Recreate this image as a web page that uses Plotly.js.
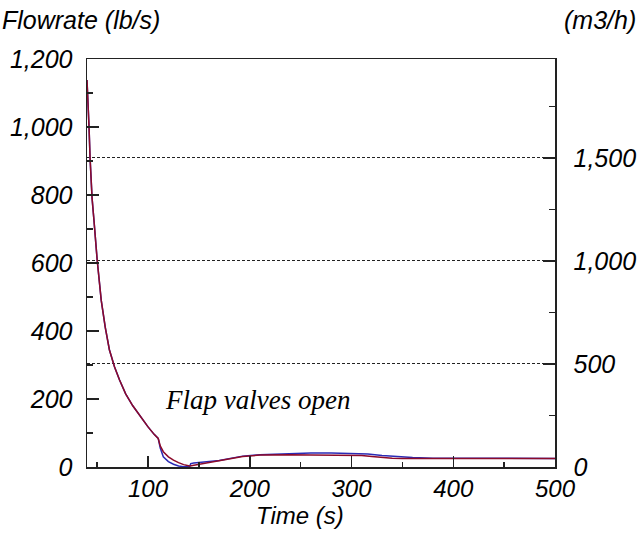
<!DOCTYPE html>
<html>
<head>
<meta charset="utf-8">
<script src="https://cdn.plot.ly/plotly-3.0.1.min.js"></script>
<style>html,body{margin:0;padding:0;background:#fff;}#chart{width:639px;height:548px;}</style>
</head>
<body>
<div id="chart"></div>
<script>
// Time (s) and flowrate (lb/s)
const timeRed = [40,41,42,43,45,47,50,54,58,62,67,72,78,85,92,100,106,110,112,115,120,125,130,135,141,145,151,160,170,180,193,210,225,240,260,280,300,310,320,330,340,350,360,380,420,500];
const flowRed = [1138,1080,1000,910,790,720,609,490,410,345,295,256,215,180,150,118,96,84,62,45,30,20,13,7,3,5,9,14,19,24,31,35,36,36,35,35,35,34,31,28,26,25,25,25,25,25];
const timeBlue = [40,41,42,43,45,47,50,54,58,62,67,72,78,85,92,100,106,110,112,115,120,125,130,135,141,142,145,151,160,170,180,193,210,225,240,260,280,300,316,330,345,360,380,420,500];
const flowBlue = [1138,1080,1000,910,790,720,609,490,410,345,295,256,215,180,150,118,96,84,56,30,16,8,3,1,2,10,12,13,16,19,24,32,36,38,40,41,41,40,38,34,30,28,26,25,25];

const xTicks = [100,200,300,400,500];
const leftTicks = [0,200,400,600,800,1000,1200];
const rightTicks = [0,500,1000,1500];
const fmt = v => v.toLocaleString('en-US');

const tickFont = {family:'Liberation Sans, Arial, sans-serif', size:25, color:'#000', style:'italic'};
const xTickFont = {family:'Liberation Sans, Arial, sans-serif', size:24, color:'#000', style:'italic'};
const axisCol = '#222';

const traces = [
  {x: timeBlue, y: flowBlue, type:'scatter', mode:'lines', line:{color:'#2b2bb5', width:1.5}, hoverinfo:'skip'},
  {x: timeRed, y: flowRed, type:'scatter', mode:'lines', line:{color:'#8c0a2a', width:1.5}, hoverinfo:'skip'},
  {x: [], y: [], yaxis:'y2', type:'scatter', mode:'lines', hoverinfo:'skip'}
];

const layout = {
  width:639, height:548,
  margin:{l:87, r:84, t:59, b:81},
  paper_bgcolor:'#fff', plot_bgcolor:'#fff',
  showlegend:false,
  xaxis:{
    range:[40,500], tickvals:xTicks, ticktext:xTicks.map(fmt),
    ticks:'inside', ticklen:11, tickcolor:axisCol, tickwidth:1.5,
    minor:{dtick:50, tick0:0, ticks:'inside', ticklen:5, tickcolor:axisCol},
    showline:true, linecolor:axisCol, linewidth:1.5, mirror:true,
    showgrid:false, zeroline:false, tickfont:xTickFont, ticklabelstandoff:0
  },
  yaxis:{
    range:[0,1200], tickvals:leftTicks, ticktext:leftTicks.map(fmt),
    ticks:'inside', ticklen:12, tickcolor:axisCol, tickwidth:1.5,
    minor:{dtick:100, tick0:0, ticks:'inside', ticklen:6, tickcolor:axisCol},
    showline:true, linecolor:axisCol, linewidth:1.5,
    showgrid:false, zeroline:false, tickfont:tickFont, ticklabelstandoff:8
  },
  yaxis2:{
    overlaying:'y', side:'right', range:[0,1980],
    tickvals:rightTicks, ticktext:rightTicks.map(fmt),
    ticks:'inside', ticklen:12, tickcolor:axisCol, tickwidth:1.5,
    minor:{dtick:250, tick0:0, ticks:'inside', ticklen:6, tickcolor:axisCol},
    showline:true, linecolor:axisCol, linewidth:1.5,
    showgrid:true, gridcolor:'#222', gridwidth:1, griddash:'3px,2px',
    zeroline:false, tickfont:tickFont, ticklabelstandoff:12
  },
  annotations:[
    {text:'Flowrate (lb/s)', xref:'paper', yref:'paper', x:(0-87)/468, y:(467-20)/408, xanchor:'left', yanchor:'middle', showarrow:false, font:tickFont},
    {text:'(m3/h)', xref:'paper', yref:'paper', x:(638-87)/468, y:(467-20)/408, xanchor:'right', yanchor:'middle', showarrow:false, font:tickFont},
    {text:'Time (s)', xref:'paper', yref:'paper', x:(300-87)/468, y:(467-515)/408, xanchor:'center', yanchor:'middle', showarrow:false, font:xTickFont},
    {text:'Flap valves open', xref:'x', yref:'y', x:208, y:197, xanchor:'center', yanchor:'middle', showarrow:false,
     font:{family:'Liberation Serif, Times New Roman, serif', size:27, color:'#000', style:'italic'}}
  ]
};

Plotly.newPlot('chart', traces, layout, {staticPlot:true, displayModeBar:false});
</script>
</body>
</html>
